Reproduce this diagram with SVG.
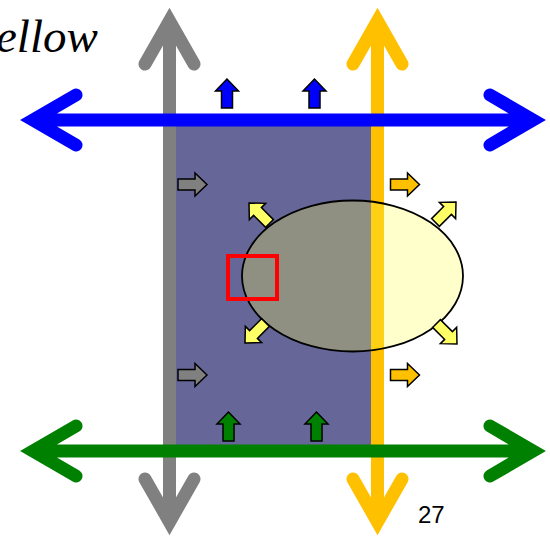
<svg xmlns="http://www.w3.org/2000/svg" width="550" height="542" viewBox="0 0 550 542">
<style>
.big{fill:none;stroke-width:13;stroke-linecap:round;stroke-linejoin:miter;stroke-miterlimit:10}
.sa{stroke:#000;stroke-width:1.5;stroke-linejoin:miter}
</style>
<defs>
<polygon id="ar" points="0,0 -12,-11.5 -12,-5.5 -29,-5.5 -29,5.5 -12,5.5 -12,11.5"/>
</defs>
<rect width="550" height="542" fill="#fff"/>
<g id="region">
<rect x="170" y="120" width="207" height="331" fill="#666699"/>
</g>
<g id="connectors">
<path class="big" stroke="#808080" d="M169.5,21 V522 M145,64 L169.5,21 L194,64 M145,479 L169.5,522 L194,479"/>
<path class="big" stroke="#FFC000" d="M377.5,21 V522 M353,64 L377.5,21 L402,64 M353,479 L377.5,522 L402,479"/>
</g>
<g id="cell">
<ellipse cx="352.5" cy="276" rx="110.5" ry="75.5" fill="rgb(255,255,73)" fill-opacity="0.28" stroke="#000" stroke-width="1.8"/>
</g>
<g id="lines">
<path class="big" stroke="#0000FF" d="M33,120 H533 M76,95 L33,120 L76,145 M490,95 L533,120 L490,145"/>
<path class="big" stroke="#008000" d="M33,451 H533 M76,426 L33,451 L76,476 M490,426 L533,451 L490,476"/>
</g>
<g id="small-arrows">
<use href="#ar" class="sa" fill="#0000FF" transform="translate(227,79) rotate(-90)"/>
<use href="#ar" class="sa" fill="#0000FF" transform="translate(314.5,79) rotate(-90)"/>
<use href="#ar" class="sa" fill="#008000" transform="translate(228.5,412) rotate(-90)"/>
<use href="#ar" class="sa" fill="#008000" transform="translate(316.5,412) rotate(-90)"/>
<use href="#ar" class="sa" fill="#808080" transform="translate(207,184.5)"/>
<use href="#ar" class="sa" fill="#808080" transform="translate(207,375)"/>
<use href="#ar" class="sa" fill="#FFC000" transform="translate(419.5,184.5)"/>
<use href="#ar" class="sa" fill="#FFC000" transform="translate(419.5,375)"/>
<use href="#ar" class="sa" fill="#FFFF66" transform="translate(249,203) rotate(-135)"/>
<use href="#ar" class="sa" fill="#FFFF66" transform="translate(456,202) rotate(-45)"/>
<use href="#ar" class="sa" fill="#FFFF66" transform="translate(245,343) rotate(135)"/>
<use href="#ar" class="sa" fill="#FFFF66" transform="translate(457,344) rotate(45)"/>
</g>
<g id="marker-box">
<rect x="228" y="256" width="49" height="43" fill="none" stroke="#FF0000" stroke-width="4"/>
</g>
<g id="labels">
<text x="-4" y="52" font-family="Liberation Serif, serif" font-style="italic" font-size="47" fill="#000">ellow</text>
<text x="418" y="523" font-family="Liberation Sans, Arial, sans-serif" font-size="24" fill="#000">27</text>
</g>
</svg>
